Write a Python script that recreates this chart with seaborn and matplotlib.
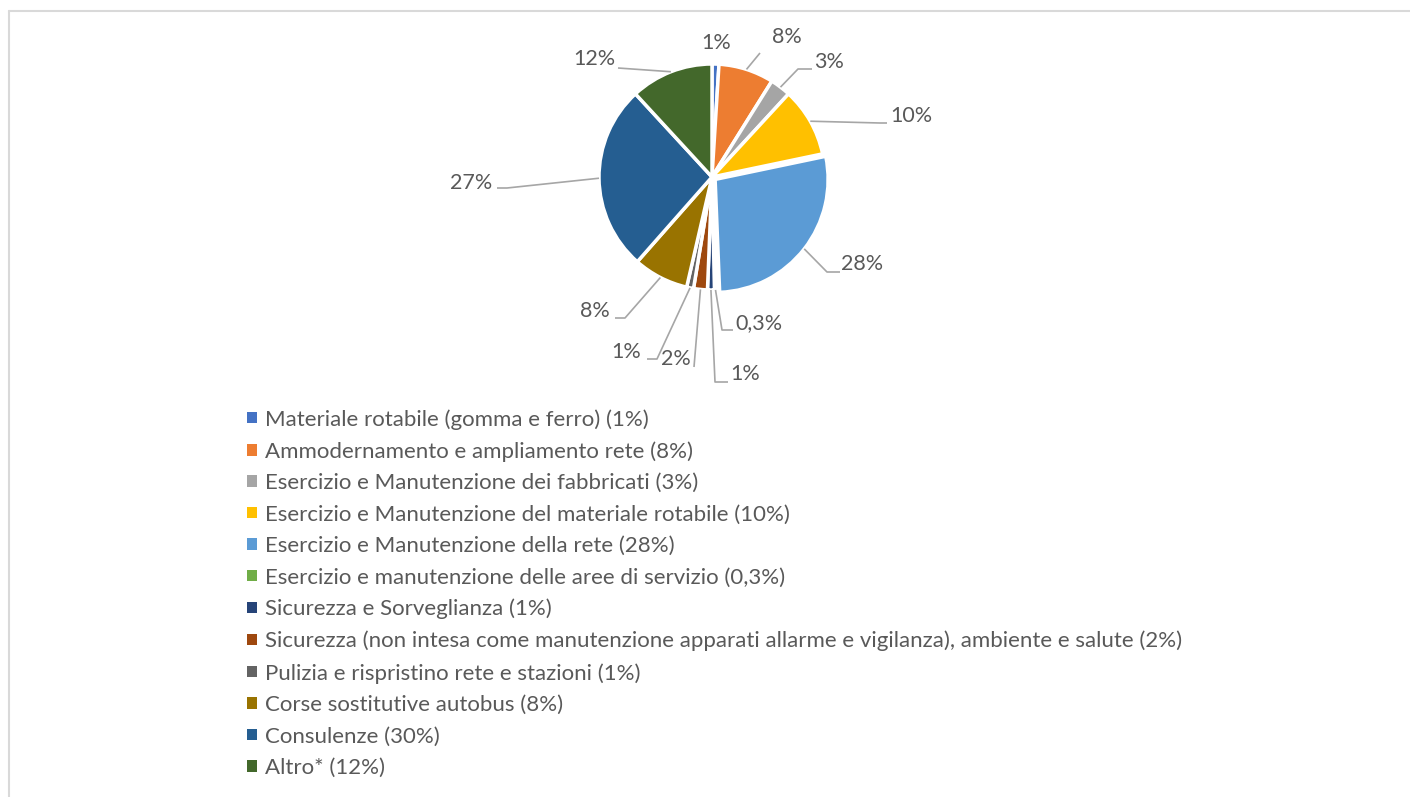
import matplotlib
matplotlib.use("Agg")
import numpy as np
import matplotlib.pyplot as plt
from matplotlib.patches import Patch
from matplotlib.lines import Line2D
import seaborn as sns

# Spending categories and their shares
categories = [
    "Materiale rotabile (gomma e ferro)",
    "Ammodernamento e ampliamento rete",
    "Esercizio e Manutenzione dei fabbricati",
    "Esercizio e Manutenzione del materiale rotabile",
    "Esercizio e Manutenzione della rete",
    "Esercizio e manutenzione delle aree di servizio",
    "Sicurezza e Sorveglianza",
    "Sicurezza (non intesa come manutenzione apparati allarme e vigilanza), ambiente e salute",
    "Pulizia e rispristino rete e stazioni",
    "Corse sostitutive autobus",
    "Consulenze",
    "Altro*",
]
shares = [1, 8, 3, 10, 28, 0.3, 1, 2, 1, 8, 27, 12]
slice_labels = ["1%", "8%", "3%", "10%", "28%", "0,3%", "1%", "2%", "1%", "8%", "27%", "12%"]
legend_shares = ["1%", "8%", "3%", "10%", "28%", "0,3%", "1%", "2%", "1%", "8%", "30%", "12%"]

palette = sns.color_palette([
    "#4472C4", "#ED7D31", "#A5A5A5", "#FFC000", "#5B9BD5", "#70AD47",
    "#264478", "#9E480E", "#636363", "#997300", "#255E91", "#43682B",
])

sns.set_theme(style="white")
plt.rcParams["font.family"] = ["Lato", "DejaVu Sans"]
TEXT = "#595959"
LEADER = "#A6A6A6"

W, H, DPI = 1410, 797, 100
fig = plt.figure(figsize=(W / DPI, H / DPI), dpi=DPI)
fig.patch.set_facecolor("white")

# pie geometry in pixels
CX, CY, R = 712, 177, 113
AX_L, AX_R, AX_T, AX_B = 400, 1020, 20, 405
ax = fig.add_axes([AX_L / W, 1 - AX_B / H, (AX_R - AX_L) / W, (AX_B - AX_T) / H])


def px(x, y):
    return ((x - CX) / R, (CY - y) / R)


explode = [0.035 if i == 4 else 0.0 for i in range(len(shares))]
wedges, _ = ax.pie(
    shares, colors=palette, startangle=90, counterclock=False,
    explode=explode, radius=1.0,
    wedgeprops=dict(edgecolor="white", linewidth=2.5),
)
ax.set_aspect("auto")
ax.set_xlim((AX_L - CX) / R, (AX_R - CX) / R)
ax.set_ylim((CY - AX_B) / R, (CY - AX_T) / R)
ax.axis("off")

# label placement: text centre and leader path (pixels)
label_layout = [
    dict(text=(716, 43), path=None),
    dict(text=(787, 37), path=[(760, 53)]),
    dict(text=(829, 62), path=[(798, 69), (812, 69)]),
    dict(text=(911, 116), path=[(880, 123), (887, 123)]),
    dict(text=(862, 264), path=[(827, 272), (840, 272)]),
    dict(text=(759, 323), path=[(722, 330), (733, 330)]),
    dict(text=(745, 374), path=[(715, 382), (728, 382)]),
    dict(text=(676, 359), path=[(694, 367)]),
    dict(text=(626, 352), path=[(657, 359), (647, 359)]),
    dict(text=(595, 311), path=[(625, 318), (615, 318)]),
    dict(text=(471, 183), path=[(507, 188), (497, 188)]),
    dict(text=(594, 59), path=[(618, 68)]),
]

for w, lab, lay in zip(wedges, slice_labels, label_layout):
    mid = np.deg2rad((w.theta1 + w.theta2) / 2)
    cx0, cy0 = w.center
    start = (cx0 + np.cos(mid) * 1.0, cy0 + np.sin(mid) * 1.0)
    if lay["path"]:
        pts = [start] + [px(*p) for p in lay["path"]]
        xs, ys = zip(*pts)
        ax.plot(xs, ys, color=LEADER, lw=1.2, solid_capstyle="butt", clip_on=False)
    tx, ty = px(*lay["text"])
    ax.text(tx, ty, lab, ha="center", va="center", fontsize=15.5, color=TEXT)

# legend
handles = [Patch(facecolor=c, edgecolor="none") for c in palette]
labels = [f"{c} ({s})" for c, s in zip(categories, legend_shares)]
fig.legend(
    handles, labels, loc="upper left",
    bbox_to_anchor=(247 / W, 1 - 409 / H),
    frameon=False, fontsize=16, labelcolor=TEXT,
    handlelength=0.43, handleheight=0.43, handletextpad=0.36,
    labelspacing=0.515, borderpad=0, borderaxespad=0,
)

# chart-area border
fig.add_artist(Line2D([9 / W, 1], [1 - 11 / H, 1 - 11 / H], color="#D9D9D9", lw=1.5))
fig.add_artist(Line2D([9 / W, 9 / W], [1 - 11 / H, 0], color="#D9D9D9", lw=1.5))

fig.savefig("out.png", dpi=DPI, facecolor="white")
